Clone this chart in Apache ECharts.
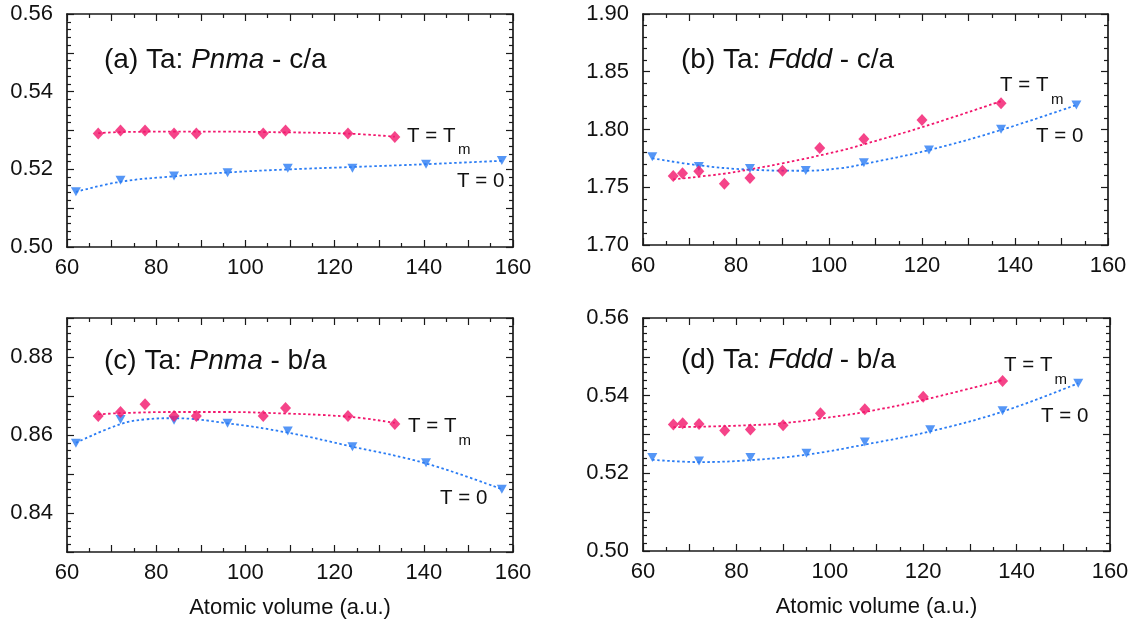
<!DOCTYPE html>
<html><head><meta charset="utf-8">
<script src="https://cdn.jsdelivr.net/npm/echarts@6.0.0/dist/echarts.min.js"></script>
<style>html,body{margin:0;padding:0;background:#fff}#c{width:1136px;height:626px}</style>
</head><body><div id="c"></div>
<script>
// ---------- data ----------
// atomic volumes (a.u.)
const volPnmaTm = [67, 72, 77.5, 84, 89, 104, 109, 123, 133.5];
const volPnmaT0 = [62, 72, 84, 96, 109.5, 124, 140.5, 157.5];
const volFdddTm = [66.5, 68.5, 72, 77.5, 83, 90, 98, 107.5, 120, 137];
const volFdddT0 = [62, 72, 83, 95, 107.5, 121.5, 137, 153.2];

// (a) Pnma c/a
const pnmaCaTm = [0.5292, 0.5300, 0.5300, 0.5292, 0.5292, 0.5292, 0.5300, 0.5292, 0.5283];
const pnmaCaT0 = [0.5142, 0.5172, 0.5183, 0.5191, 0.5203, 0.5203, 0.5213, 0.5223];
// (b) Fddd c/a
const fdddCaTm = [1.7597, 1.7621, 1.7638, 1.7531, 1.7580, 1.7643, 1.7840, 1.7918, 1.8082, 1.8227];
const fdddCaT0 = [1.7765, 1.7680, 1.7662, 1.7645, 1.7713, 1.7823, 1.8002, 1.8212];
// (c) Pnma b/a
const pnmaBaTm = [0.8649, 0.8659, 0.8679, 0.8649, 0.8649, 0.8649, 0.8669, 0.8649, 0.8628];
const pnmaBaT0 = [0.8579, 0.8640, 0.8638, 0.8630, 0.8610, 0.8570, 0.8529, 0.8461];
// (d) Fddd b/a
const fdddBaTm = [0.5326, 0.5329, 0.5327, 0.5310, 0.5313, 0.5324, 0.5355, 0.5365, 0.5397, 0.5438];
const fdddBaT0 = [0.5241, 0.5232, 0.5241, 0.5252, 0.5281, 0.5312, 0.5361, 0.5432];

// fitted dotted curves at a few volumes
const fitAxTm = [67, 72, 84, 95, 104, 123, 133.5];
const fitAyTm = [0.5293, 0.5296, 0.5297, 0.5297, 0.5296, 0.5292, 0.5284];
const fitAxT0 = [62, 72, 84, 96, 110, 124, 140, 157.5];
const fitAyT0 = [0.5142, 0.5168, 0.5182, 0.5192, 0.5200, 0.5206, 0.5213, 0.5222];

const fitBxTm = [66.5, 77, 83, 90, 102.4, 107.5, 120, 137];
const fitByTm = [1.7569, 1.7615, 1.7655, 1.7707, 1.7816, 1.7872, 1.8020, 1.8245];
const fitBxT0 = [62, 72, 83, 95, 102.5, 107.5, 121.5, 137, 153.2];
const fitByT0 = [1.7751, 1.7690, 1.7652, 1.7643, 1.7665, 1.7700, 1.7822, 1.7996, 1.8212];

const fitCxTm = [67, 72, 84, 95, 104, 123, 133.5];
const fitCyTm = [0.8653, 0.8656, 0.8659, 0.8659, 0.8657, 0.8647, 0.8631];
const fitCxT0 = [62, 72, 77.5, 84, 96, 109.5, 124, 140.5, 157.5];
const fitCyT0 = [0.8580, 0.8628, 0.8640, 0.8643, 0.8630, 0.8606, 0.8570, 0.8527, 0.8461];

const fitDxTm = [66.5, 72, 83, 90, 98, 107.5, 120, 137];
const fitDyTm = [0.5319, 0.5320, 0.5324, 0.5329, 0.5341, 0.5358, 0.5389, 0.5440];
const fitDxT0 = [62, 72, 83, 95, 107.5, 121.5, 137, 153.2];
const fitDyT0 = [0.5235, 0.5229, 0.5234, 0.5248, 0.5274, 0.5308, 0.5359, 0.5432];

// axes
const xMin = 60, xMax = 160, xStep = 10, xLabelStep = 20;
const yRanges = [
  {min: 0.50, max: 0.56, step: 0.01, labelEvery: 2, dec: 2},
  {min: 1.70, max: 1.90, step: 0.05, labelEvery: 1, dec: 2},
  {min: 0.83, max: 0.89, step: 0.01, labelEvery: 2, dec: 2},
  {min: 0.50, max: 0.56, step: 0.01, labelEvery: 2, dec: 2}
];
const xAxisName = 'Atomic volume (a.u.)';

// ---------- chart ----------
const FONT = 'Liberation Sans, Arial, Helvetica, sans-serif';
const RED = '#f2156c';
const BLUE = '#2a7cf4';
const INK = '#1a1a1a';

const grids = [
  {left: 67, top: 14, width: 446, height: 233},
  {left: 643, top: 14, width: 465, height: 231},
  {left: 67, top: 318, width: 446, height: 234},
  {left: 643, top: 318, width: 467, height: 233}
].map(g => Object.assign({outerBoundsMode: 'none', containLabel: false}, g));

const lineCommon = {show: true, onZero: false, lineStyle: {color: INK, width: 1.7}};
const tickStyle = {color: INK, width: 1.2};

const xAxes = [], yAxes = [];
for (let gi = 0; gi < 4; gi++) {
  ['bottom', 'top'].forEach(pos => {
    xAxes.push({
      type: 'value', gridIndex: gi, position: pos, min: xMin, max: xMax, interval: xStep,
      axisLine: lineCommon,
      axisTick: {show: true, inside: true, length: 7, lineStyle: tickStyle},
      minorTick: {show: true, splitNumber: 2, length: 4, lineStyle: tickStyle},
      splitLine: {show: false}, minorSplitLine: {show: false},
      axisLabel: {show: pos === 'bottom', margin: 10, fontSize: 22, color: '#111', fontFamily: FONT,
        formatter: v => (Math.round(v) % xLabelStep === 0 ? String(Math.round(v)) : '')},
      name: (pos === 'bottom' && gi >= 2) ? xAxisName : '',
      nameLocation: 'middle', nameGap: 45,
      nameTextStyle: {fontSize: 22, color: '#111', fontFamily: FONT}
    });
  });
  const r = yRanges[gi];
  ['left', 'right'].forEach(pos => {
    yAxes.push({
      type: 'value', gridIndex: gi, position: pos, min: r.min, max: r.max, interval: r.step,
      axisLine: lineCommon,
      axisTick: {show: true, inside: true, length: 7, lineStyle: tickStyle},
      minorTick: {show: true, splitNumber: 5, length: 4, lineStyle: tickStyle},
      splitLine: {show: false}, minorSplitLine: {show: false},
      axisLabel: {show: pos === 'left', margin: 14, fontSize: 22, color: '#111', fontFamily: FONT,
        formatter: v => {
          const absK = Math.round(v / r.step);
          return (absK % r.labelEvery === 0) ? v.toFixed(r.dec) : '';
        }}
    });
  });
}

function zip(xs, ys) { return xs.map((x, i) => [x, ys[i]]); }

const panels = [
  {tmX: volPnmaTm, tmY: pnmaCaTm, t0X: volPnmaT0, t0Y: pnmaCaT0, fTmX: fitAxTm, fTmY: fitAyTm, fT0X: fitAxT0, fT0Y: fitAyT0},
  {tmX: volFdddTm, tmY: fdddCaTm, t0X: volFdddT0, t0Y: fdddCaT0, fTmX: fitBxTm, fTmY: fitByTm, fT0X: fitBxT0, fT0Y: fitByT0},
  {tmX: volPnmaTm, tmY: pnmaBaTm, t0X: volPnmaT0, t0Y: pnmaBaT0, fTmX: fitCxTm, fTmY: fitCyTm, fT0X: fitCxT0, fT0Y: fitCyT0},
  {tmX: volFdddTm, tmY: fdddBaTm, t0X: volFdddT0, t0Y: fdddBaT0, fTmX: fitDxTm, fTmY: fitDyTm, fT0X: fitDxT0, fT0Y: fitDyT0}
];

const series = [];
panels.forEach((p, gi) => {
  const xi = gi * 2, yi = gi * 2;
  series.push({type: 'line', xAxisIndex: xi, yAxisIndex: yi, data: zip(p.fT0X, p.fT0Y), smooth: 0.4,
    symbol: 'none', lineStyle: {color: BLUE, width: 1.8, type: [2.5, 2.5]}, z: 2, silent: true});
  series.push({type: 'line', xAxisIndex: xi, yAxisIndex: yi, data: zip(p.fTmX, p.fTmY), smooth: 0.4,
    symbol: 'none', lineStyle: {color: RED, width: 1.8, type: [2.5, 2.5]}, z: 2, silent: true});
  series.push({type: 'scatter', xAxisIndex: xi, yAxisIndex: yi, data: zip(p.t0X, p.t0Y),
    symbol: 'triangle', symbolRotate: 180, symbolSize: [10, 9], itemStyle: {color: BLUE}, z: 3});
  series.push({type: 'scatter', xAxisIndex: xi, yAxisIndex: yi, data: zip(p.tmX, p.tmY),
    symbol: 'diamond', symbolSize: [11, 12], itemStyle: {color: RED}, z: 4});
});

function txt(x, y, text, size, extra) {
  return {type: 'text', x: x, y: y, z: 10, silent: true,
    style: Object.assign({text: text, fill: '#111', fontSize: size, fontFamily: FONT,
      align: 'left', verticalAlign: 'middle'}, extra || {})};
}
function title(x, y, lead, ital, tail) {
  return txt(x, y, '{n|' + lead + '}{i|' + ital + '}{n|' + tail + '}', 28, {
    rich: {n: {fontSize: 28, fontFamily: FONT, fill: '#111'},
           i: {fontSize: 28, fontFamily: FONT, fontStyle: 'italic', fill: '#111'}}});
}
const graphics = [
  title(104, 60, '(a) Ta: ', 'Pnma', ' - c/a'),
  title(681, 60, '(b) Ta: ', 'Fddd', ' - c/a'),
  title(104, 361, '(c) Ta: ', 'Pnma', ' - b/a'),
  title(681, 360, '(d) Ta: ', 'Fddd', ' - b/a'),
  txt(407, 136.5, 'T = T', 20.5), txt(458, 150, 'm', 15), txt(457, 181, 'T = 0', 20.5),
  txt(1000, 85.5, 'T = T', 20.5), txt(1051, 100, 'm', 15), txt(1036, 136.5, 'T = 0', 20.5),
  txt(408, 426, 'T = T', 20.5), txt(458.5, 441, 'm', 15), txt(440, 498, 'T = 0', 20.5),
  txt(1004, 365, 'T = T', 20.5), txt(1054.5, 380, 'm', 15), txt(1041, 416, 'T = 0', 20.5)
];

const chart = echarts.init(document.getElementById('c'), null, {renderer: 'canvas'});
chart.setOption({
  backgroundColor: '#ffffff',
  animation: false,
  grid: grids,
  xAxis: xAxes,
  yAxis: yAxes,
  series: series,
  graphic: graphics
});
</script></body></html>
